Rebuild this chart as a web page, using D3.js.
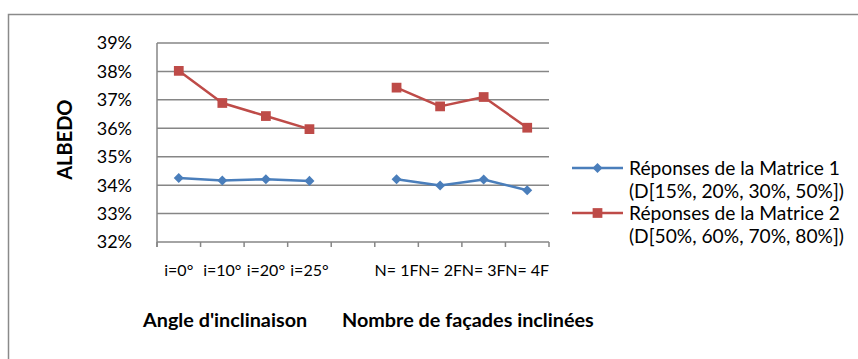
<!DOCTYPE html>
<html>
<head>
<meta charset="utf-8">
<script src="https://cdn.jsdelivr.net/npm/d3@7"></script>
<style>
  body { margin: 0; background: #fff; }
  svg { display: block; font-family: Lato, "Open Sans", sans-serif; }
</style>
</head>
<body>
<script>
// categories (the empty one is the gap between the two groups)
var categories = ["i=0°", "i=10°", "i=20°", "i=25°", "", "N= 1F", "N= 2F", "N= 3F", "N= 4F"]
var matrice1 = [34.25, 34.16, 34.21, 34.15, null, 34.21, 33.99, 34.20, 33.82]
var matrice2 = [38.02, 36.89, 36.43, 35.97, null, 37.43, 36.77, 37.10, 36.02]
var groups = [
  {label: "Angle d'inclinaison", first: 0, last: 3, shift: -19},
  {label: "Nombre de façades inclinées", first: 5, last: 8, shift: 6}
]
var yTicks = [32, 33, 34, 35, 36, 37, 38, 39]
var legendLabels = [
  ["Réponses de la Matrice 1", "(D[15%, 20%, 30%, 50%])"],
  ["Réponses de la Matrice 2", "(D[50%, 60%, 70%, 80%])"]
]

var width = 858, height = 359
var margin = {top: 43, right: 309, bottom: 117, left: 157}

var svg = d3.select("body").append("svg")
  .attr("width", width)
  .attr("height", height)

// chart frame (runs off the right and bottom of the picture)
svg.append("rect")
  .attr("x", 8.5).attr("y", 14.5)
  .attr("width", 900).attr("height", 400)
  .attr("fill", "none")
  .attr("stroke", "#8a8a8a")
  .attr("stroke-width", 1.5)

var x = d3.scaleBand()
  .domain(d3.range(categories.length))
  .range([margin.left, width - margin.right])
  .padding(0)

var y = d3.scaleLinear()
  .domain([32, 39])
  .range([height - margin.bottom, margin.top])

var grey = "#868686"

// gridlines
svg.append("g")
  .selectAll("line")
  .data(yTicks)
  .join("line")
  .attr("x1", margin.left).attr("x2", width - margin.right)
  .attr("y1", d => y(d)).attr("y2", d => y(d))
  .attr("stroke", grey)
  .attr("stroke-width", 1.5)

// y axis line
svg.append("line")
  .attr("x1", margin.left).attr("x2", margin.left)
  .attr("y1", y(39)).attr("y2", y(32) + 5)
  .attr("stroke", grey).attr("stroke-width", 1.5)

// y tick labels
svg.append("g")
  .selectAll("text")
  .data(yTicks)
  .join("text")
  .attr("x", margin.left - 25)
  .attr("y", d => y(d))
  .attr("dy", "0.36em")
  .attr("text-anchor", "end")
  .attr("font-size", "18px")
  .attr("fill", "#000")
  .text(d => d + "%")

// x tick marks at band edges
var edges = d3.range(categories.length + 1).map(i => i < categories.length ? x(i) : x(i - 1) + x.bandwidth())
svg.append("g")
  .selectAll("line")
  .data(edges)
  .join("line")
  .attr("x1", d => d).attr("x2", d => d)
  .attr("y1", y(32)).attr("y2", y(32) + 5)
  .attr("stroke", grey).attr("stroke-width", 1.5)

// x tick labels
svg.append("g")
  .selectAll("text")
  .data(categories)
  .join("text")
  .attr("x", (d, i) => x(i) + x.bandwidth() / 2)
  .attr("y", y(32) + 34)
  .attr("text-anchor", "middle")
  .attr("font-size", "16px")
  .text(d => d)

// group labels
svg.append("g")
  .selectAll("text")
  .data(groups)
  .join("text")
  .attr("x", d => (x(d.first) + x(d.last) + x.bandwidth()) / 2 + d.shift)
  .attr("y", y(32) + 85)
  .attr("text-anchor", "middle")
  .attr("font-size", "19.8px")
  .attr("font-weight", "bold")
  .text(d => d.label)

// y axis title
svg.append("text")
  .attr("transform", "translate(72," + (y(35.6)) + ") rotate(-90)")
  .attr("text-anchor", "middle")
  .attr("font-size", "20px")
  .attr("font-weight", "bold")
  .text("ALBEDO")

var line = d3.line()
  .defined(d => d != null)
  .x((d, i) => x(i) + x.bandwidth() / 2)
  .y(d => y(d))

var series = [
  {values: matrice1, color: "#4a7ebb", shape: d3.symbolDiamond2, size: 64},
  {values: matrice2, color: "#be4b48", shape: d3.symbolSquare, size: 95}
]

series.forEach(function(s) {
  svg.append("path")
    .attr("d", line(s.values))
    .attr("fill", "none")
    .attr("stroke", s.color)
    .attr("stroke-width", 2.5)
    .attr("stroke-linejoin", "round")

  svg.append("g")
    .selectAll("path")
    .data(s.values.map((v, i) => ({v: v, i: i})).filter(d => d.v != null))
    .join("path")
    .attr("transform", d => "translate(" + (x(d.i) + x.bandwidth() / 2) + "," + y(d.v) + ")")
    .attr("d", d3.symbol().type(s.shape).size(s.size))
    .attr("fill", s.color)
})

// legend
var legend = svg.append("g")
  .selectAll("g")
  .data(series)
  .join("g")
  .attr("transform", (d, i) => "translate(572," + (168 + i * 45) + ")")

legend.append("line")
  .attr("x1", 0).attr("x2", 51)
  .attr("stroke", d => d.color)
  .attr("stroke-width", 2.5)

legend.append("path")
  .attr("transform", "translate(25.5,0)")
  .attr("d", d => d3.symbol().type(d.shape).size(d.size)())
  .attr("fill", d => d.color)

legend.each(function(d, i) {
  d3.select(this).selectAll("text")
    .data(legendLabels[i])
    .join("text")
    .attr("x", 57)
    .attr("y", (t, j) => j * 23.5)
    .attr("dy", "0.36em")
    .attr("font-size", "19.2px")
    .text(t => t)
})
</script>
</body>
</html>
